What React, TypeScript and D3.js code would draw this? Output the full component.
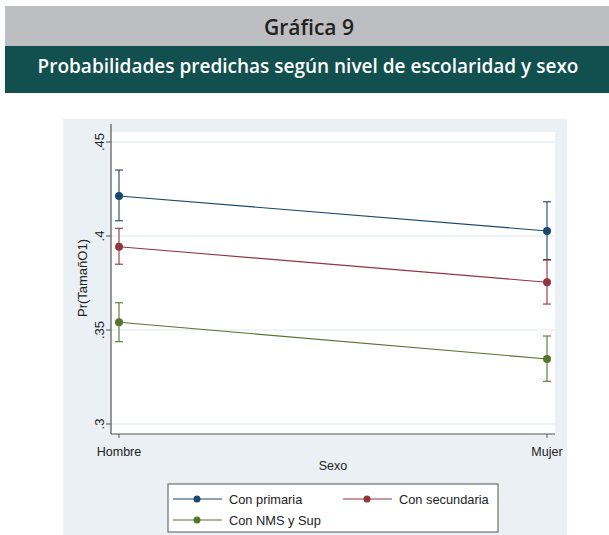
import React from "react";
import * as d3 from "d3";

const categories = ["Hombre", "Mujer"];
const seriesNames = ["Con primaria", "Con secundaria", "Con NMS y Sup"];
const primaria = [0.4213, 0.4027];
const primariaLo = [0.4081, 0.3875];
const primariaHi = [0.4351, 0.4182];
const secundaria = [0.3943, 0.3754];
const secundariaLo = [0.385, 0.3638];
const secundariaHi = [0.4041, 0.3872];
const nms = [0.3541, 0.3346];
const nmsLo = [0.3438, 0.3227];
const nmsHi = [0.3645, 0.3468];
const yTicks = [0.3, 0.35, 0.4, 0.45];
const yTickLabels = [".3", ".35", ".4", ".45"];
const colors = ["#1a476f", "#90353b", "#55752f"];

const series = [
  { name: seriesNames[0], v: primaria, lo: primariaLo, hi: primariaHi, color: colors[0] },
  { name: seriesNames[1], v: secundaria, lo: secundariaLo, hi: secundariaHi, color: colors[1] },
  { name: seriesNames[2], v: nms, lo: nmsLo, hi: nmsHi, color: colors[2] },
];

export default function App() {
  const W = 609, H = 535;
  const plotL = 111, plotR = 555, plotT = 132, plotB = 434;
  const y = d3.scaleLinear().domain([0.3, 0.45]).range([424, 142]);
  const x = d3.scalePoint<string>().domain(categories).range([119, 547]);
  const line = d3.line<number>().x((_, i) => x(categories[i])!).y((d) => y(d));
  const font = "'Liberation Sans', Arial, sans-serif";
  const legendItems = [
    { s: series[0], lx: 173, ly: 499 },
    { s: series[1], lx: 343, ly: 499 },
    { s: series[2], lx: 173, ly: 520 },
  ];
  return (
    <svg width={W} height={H} style={{ position: "absolute", left: 0, top: 0 }}>
      <rect x={0} y={0} width={W} height={H} fill="#fff" />
      <rect x={5} y={6} width={W - 5} height={40} fill="#bdbec2" />
      <text x={309} y={35} textAnchor="middle" fontFamily="'Open Sans', sans-serif" fontSize={21} fontWeight={600} fill="#231f20">Gráfica 9</text>
      <rect x={5} y={46} width={W - 5} height={47} fill="#124f4f" />
      <text x={308} y={73} textAnchor="middle" fontFamily="'Open Sans', sans-serif" fontSize={19} fontWeight={600} fill="#fff">Probabilidades predichas según nivel de escolaridad y sexo</text>

      <rect x={63} y={119} width={504} height={H - 119} fill="#eaf0f3" />
      <rect x={plotL} y={plotT} width={plotR - plotL} height={plotB - plotT} fill="#fff" />
      {yTicks.map((t) => (
        <line key={"g" + t} x1={plotL} x2={plotR} y1={y(t)} y2={y(t)} stroke="#eaf2f3" strokeWidth={1.5} />
      ))}
      <line x1={plotL} x2={plotL} y1={plotT - 8} y2={plotB} stroke="#555" strokeWidth={1.2} />
      <line x1={plotL} x2={plotR} y1={plotB} y2={plotB} stroke="#555" strokeWidth={1.2} />
      {yTicks.map((t, i) => (
        <g key={"t" + t}>
          <line x1={plotL - 5} x2={plotL} y1={y(t)} y2={y(t)} stroke="#555" />
          <text transform={`translate(${plotL - 7},${y(t)}) rotate(-90)`} textAnchor="middle" fontFamily={font} fontSize={13} fill="#222">{yTickLabels[i]}</text>
        </g>
      ))}
      {categories.map((c) => (
        <g key={c}>
          <line x1={x(c)!} x2={x(c)!} y1={plotB} y2={plotB + 4} stroke="#555" />
          <text x={x(c)!} y={plotB + 22} textAnchor="middle" fontFamily={font} fontSize={12.5} fill="#222">{c}</text>
        </g>
      ))}
      <text x={333} y={470} textAnchor="middle" fontFamily={font} fontSize={12.5} fill="#222">Sexo</text>
      <text transform={`translate(87,278) rotate(-90)`} textAnchor="middle" fontFamily={font} fontSize={13} fill="#222">Pr(TamañO1)</text>

      {series.map((s) => (
        <g key={s.name}>
          <path d={line(s.v)!} fill="none" stroke={s.color} strokeWidth={1.1} />
          {s.v.map((v, i) => {
            const cx = x(categories[i])!;
            return (
              <g key={i}>
                <line x1={cx} x2={cx} y1={y(s.lo[i])} y2={y(s.hi[i])} stroke={s.color} strokeWidth={1.1} />
                <line x1={cx - 4} x2={cx + 4} y1={y(s.lo[i])} y2={y(s.lo[i])} stroke={s.color} strokeWidth={1.1} />
                <line x1={cx - 4} x2={cx + 4} y1={y(s.hi[i])} y2={y(s.hi[i])} stroke={s.color} strokeWidth={1.1} />
                <circle cx={cx} cy={y(v)} r={4} fill={s.color} />
              </g>
            );
          })}
        </g>
      ))}

      <rect x={168} y={484} width={330} height={48} fill="#fff" stroke="#555" strokeWidth={1} />
      {legendItems.map(({ s, lx, ly }) => (
        <g key={s.name}>
          <line x1={lx} x2={lx + 49} y1={ly} y2={ly} stroke={s.color} strokeWidth={1.1} />
          <circle cx={lx + 24} cy={ly} r={3.5} fill={s.color} />
          <text x={lx + 56} y={ly + 4.5} fontFamily={font} fontSize={12.8} fill="#222">{s.name}</text>
        </g>
      ))}
    </svg>
  );
}
